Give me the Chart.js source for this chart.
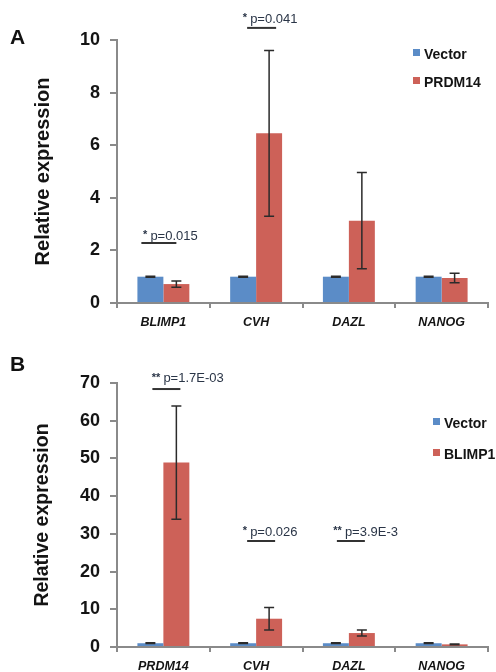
<!DOCTYPE html>
<html>
<head>
<meta charset="utf-8">
<script src="https://cdn.jsdelivr.net/npm/chart.js@4.4.0/dist/chart.umd.min.js"></script>
<style>
  html, body { margin: 0; padding: 0; background: #fff; }
  body { width: 496px; height: 672px; position: relative; overflow: hidden; font-family: 'Liberation Sans', Arial, sans-serif; }
  .panel { position: absolute; left: 0; width: 496px; height: 336px; }
  .tag { position: absolute; left: 10px; font-weight: bold; font-size: 21px; line-height: 21px; color: #111; }
</style>
</head>
<body>
<div class="panel" style="top:0"><canvas id="chartA" width="496" height="336"></canvas></div>
<div class="panel" style="top:336px"><canvas id="chartB" width="496" height="336"></canvas></div>
<div class="tag" style="top:26px">A</div>
<div class="tag" style="top:353px">B</div>
<script>
// panel A: PRDM14 overexpression
const genesA = ["BLIMP1", "CVH", "DAZL", "NANOG"];
const vectorA = [1, 1, 1, 1];
const vectorErrA = [0.02, 0.02, 0.02, 0.02];
const prdm14A = [0.72, 6.45, 3.13, 0.95];
const prdm14ErrA = [0.12, 3.15, 1.83, 0.18];
const starsA = ["*", "*", "", ""];
const pValuesA = ["p=0.015", "p=0.041", "", ""];
const yMaxA = 10;
const yStepA = 2;

// panel B: BLIMP1 overexpression
const genesB = ["PRDM14", "CVH", "DAZL", "NANOG"];
const vectorB = [1, 1, 1, 1];
const vectorErrB = [0.1, 0.1, 0.1, 0.1];
const blimp1B = [48.9, 7.5, 3.7, 0.7];
const blimp1ErrB = [15, 3, 0.8, 0.1];
const starsB = ["**", "*", "**", ""];
const pValuesB = ["p=1.7E-03", "p=0.026", "p=3.9E-3", ""];
const yMaxB = 70;
const yStepB = 10;

const BLUE = "#5b8cc7";
const RED = "#cd6158";
const AXIS = "#8a8a8a";
const INK = "#141414";

Chart.defaults.font.family = "'Liberation Sans', Arial, sans-serif";

// where the significance notes sit (offsets in px from category centre, heights in axis units)
const noteLayoutA = [
  { dx: -13, y: 2.55, from: -22, to: 13, lineY: 2.28 },
  { dx: -6, y: 10.8, from: -9, to: 20, lineY: 10.46 },
];
const noteLayoutB = [
  { dx: 0, y: 71.1, from: -11, to: 17, lineY: 68.4 },
  { dx: -6, y: 30.5, from: -9, to: 19, lineY: 28.1 },
  { dx: -4, y: 30.5, from: -12, to: 16, lineY: 28.1 },
];

const extras = {
  id: "extras",
  afterDatasetsDraw(chart) {
    const ctx = chart.ctx;
    const y = chart.scales.y;
    chart.data.datasets.forEach((ds, d) => {
      const meta = chart.getDatasetMeta(d);
      meta.data.forEach((bar, i) => {
        const v = ds.data[i], e = ds.errors[i];
        const top = y.getPixelForValue(v + e);
        const bot = y.getPixelForValue(Math.max(0, v - e));
        ctx.save();
        ctx.strokeStyle = "#2b2b2b";
        ctx.lineWidth = 1.5;
        ctx.beginPath();
        ctx.moveTo(bar.x, top); ctx.lineTo(bar.x, bot);
        ctx.moveTo(bar.x - 5, top); ctx.lineTo(bar.x + 5, top);
        ctx.moveTo(bar.x - 5, bot); ctx.lineTo(bar.x + 5, bot);
        ctx.stroke();
        ctx.restore();
      });
    });
  },
  afterDraw(chart, args, opts) {
    const ctx = chart.ctx;
    const x = chart.scales.x, y = chart.scales.y;
    ctx.save();
    // significance notes
    opts.layout.forEach((n, i) => {
      const cx = x.getPixelForValue(i);
      const ty = y.getPixelForValue(n.y);
      const ly = y.getPixelForValue(n.lineY);
      ctx.fillStyle = "#2a3547";
      ctx.textBaseline = "middle";
      ctx.textAlign = "left";
      ctx.font = "13px 'Liberation Sans'";
      ctx.fillText(opts.pValues[i], cx + n.dx, ty);
      ctx.textAlign = "right";
      ctx.font = "bold 11px 'Liberation Sans'";
      ctx.fillText(opts.stars[i], cx + n.dx - 3, ty - 1);
      ctx.strokeStyle = "#333";
      ctx.lineWidth = 2;
      ctx.beginPath();
      ctx.moveTo(cx + n.from, ly);
      ctx.lineTo(cx + n.to, ly);
      ctx.stroke();
    });
    // legend
    const lg = opts.legend;
    chart.data.datasets.forEach((ds, d) => {
      const yy = lg.y + d * lg.gap;
      ctx.fillStyle = ds.backgroundColor;
      ctx.fillRect(lg.x, yy - 6, 7, 7);
      ctx.fillStyle = INK;
      ctx.font = "bold 14px 'Liberation Sans'";
      ctx.textAlign = "left";
      ctx.textBaseline = "middle";
      ctx.fillText(ds.label, lg.x + 11, yy);
    });
    ctx.restore();
  }
};

function makeChart(id, genes, series, yMax, yStep, topPad, xHeight, titleSize, notes) {
  return new Chart(document.getElementById(id), {
    type: "bar",
    data: {
      labels: genes,
      datasets: series.map(s => ({
        label: s.label,
        data: s.data,
        errors: s.errors,
        backgroundColor: s.color,
        categoryPercentage: 0.56,
        barPercentage: 1.0,
      })),
    },
    options: {
      responsive: false,
      animation: false,
      layout: { padding: { top: topPad, right: 8, left: 0, bottom: 0 } },
      plugins: {
        legend: { display: false },
        tooltip: { enabled: false },
        extras: notes,
      },
      scales: {
        x: {
          afterFit: s => { s.height = xHeight; },
          grid: { drawOnChartArea: false, drawTicks: true, tickLength: 5, color: AXIS, lineWidth: 2 },
          border: { color: AXIS, width: 2 },
          ticks: { color: INK, padding: 7, font: { size: 12.5, weight: "bold", style: "italic" } },
        },
        y: {
          min: 0,
          max: yMax,
          afterFit: s => { s.width = 117; },
          grid: { drawOnChartArea: false, drawTicks: true, tickLength: 7, color: AXIS, lineWidth: 2 },
          border: { color: AXIS, width: 2 },
          ticks: { stepSize: yStep, color: INK, padding: 10, font: { size: 18, weight: "bold" } },
          title: {
            display: true,
            text: "Relative expression",
            color: INK,
            padding: { top: 31, bottom: 0 },
            font: { size: titleSize, weight: "bold" },
          },
        },
      },
    },
    plugins: [extras],
  });
}

makeChart("chartA", genesA, [
  { label: "Vector", data: vectorA, errors: vectorErrA, color: BLUE },
  { label: "PRDM14", data: prdm14A, errors: prdm14ErrA, color: RED },
], yMaxA, yStepA, 40, 33, 20, {
  layout: noteLayoutA, stars: starsA, pValues: pValuesA,
  legend: { x: 413, y: 55, gap: 28 },
});

makeChart("chartB", genesB, [
  { label: "Vector", data: vectorB, errors: vectorErrB, color: BLUE },
  { label: "BLIMP1", data: blimp1B, errors: blimp1ErrB, color: RED },
], yMaxB, yStepB, 47, 25, 19.5, {
  layout: noteLayoutB, stars: starsB, pValues: pValuesB,
  legend: { x: 433, y: 88, gap: 31 },
});
</script>
</body>
</html>
